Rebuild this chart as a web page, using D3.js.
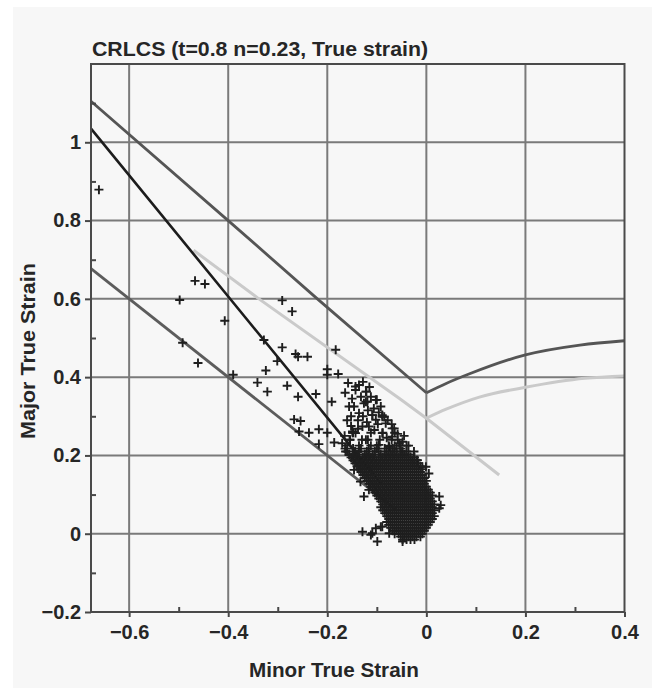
<!DOCTYPE html>
<html>
<head>
<meta charset="utf-8">
<script src="https://cdn.jsdelivr.net/npm/d3@7"></script>
<style>
  body { margin: 0; background: #fff; }
  text { font-family: "Liberation Sans", Arial, sans-serif; font-weight: bold; fill: #262626; }
</style>
</head>
<body>
<div id="chart"></div>
<script>
// curves: [minor, major]
const flcLeftMinor  = [-0.677, -0.4, -0.22, 0];
const flcLeftMajor  = [1.105, 0.8, 0.6, 0.36];
const flcRightMinor = [0, 0.04, 0.086, 0.2, 0.31, 0.4];
const flcRightMajor = [0.36, 0.384, 0.408, 0.457, 0.482, 0.493];

const safeLeftMinor  = [-0.47, -0.338, -0.055, 0, 0.147];
const safeLeftMajor  = [0.724, 0.6, 0.346, 0.295, 0.15];
const safeRightMinor = [0, 0.04, 0.107, 0.2, 0.32, 0.4];
const safeRightMajor = [0.295, 0.318, 0.349, 0.374, 0.397, 0.403];

const shearMinor = [-0.677, -0.4, -0.09];
const shearMajor = [1.035, 0.606, 0.126];
const lowerMinor = [-0.677, -0.06];
const lowerMajor = [0.677, 0.06];

// isolated measured points
const loosePoints = [
  [-0.661,0.879],[-0.467,0.646],[-0.447,0.638],[-0.498,0.597],[-0.407,0.544],[-0.492,0.488],
  [-0.461,0.436],[-0.39,0.406],[-0.291,0.596],[-0.271,0.568],[-0.328,0.495],[-0.291,0.476],
  [-0.301,0.441],[-0.264,0.459],[-0.24,0.452],[-0.259,0.452],[-0.324,0.417],[-0.341,0.386],
  [-0.321,0.363],[-0.281,0.378],[-0.259,0.35],[-0.223,0.357],[-0.2,0.42],[-0.2,0.406],
  [-0.178,0.408],[-0.183,0.47],[-0.191,0.337],[-0.267,0.292],[-0.254,0.288],[-0.257,0.261],
  [-0.237,0.258],[-0.217,0.267],[-0.2,0.258],[-0.217,0.229],[-0.186,0.233],[-0.149,0.258],
  [-0.164,0.36],[-0.143,0.367],[-0.136,0.38],[-0.121,0.363],[-0.1,0.342],[-0.119,0.337],
  [-0.089,0.303],[-0.109,0.303]
];

// edge of the big cluster
const fringePoints = [
  [-0.143,0.376],[-0.122,0.363],[-0.102,0.342],[-0.126,0.333],[-0.146,0.325],[-0.136,0.308],
  [-0.089,0.299],[-0.065,0.269],[-0.082,0.282],[-0.102,0.291],[-0.116,0.274],[-0.048,0.235],
  [-0.069,0.248],[-0.089,0.257],[-0.143,0.257],[-0.122,0.24],[-0.096,0.227],[-0.075,0.222],
  [-0.018,0.188],[-0.001,0.171],[0.029,0.073],[0.026,0.065],[-0.129,0.005],[-0.109,0.001],
  [-0.099,-0.02],[-0.089,0.018],[-0.048,-0.02],[-0.102,0.014],[-0.112,-0.003],[-0.075,0.001],
  [-0.092,0.018],[-0.156,0.325],[-0.122,0.337],[-0.109,0.303],[-0.149,0.261],[-0.129,0.274],
  [-0.17,0.231],[-0.163,0.21],[-0.126,0.095],[-0.116,0.112],[-0.133,0.133],[-0.146,0.163],
  [-0.085,0.299],[-0.069,0.269],[-0.055,0.231],[-0.052,0.21],[-0.028,0.188],[-0.008,0.171],
  [0.005,0.154],[0.026,0.095],
  [-0.16,0.29],[-0.152,0.3],[-0.138,0.29],[-0.128,0.3],[-0.118,0.315],[-0.106,0.32],
  [-0.096,0.31],[-0.132,0.35],[-0.112,0.35],[-0.092,0.325],[-0.078,0.29],[-0.07,0.28],
  [-0.058,0.255],[-0.045,0.25],[-0.036,0.225],[-0.025,0.21],[-0.152,0.275],[-0.138,0.268],
  [-0.105,0.265],[-0.08,0.245],[-0.165,0.25],[-0.155,0.24],[-0.12,0.285],[-0.098,0.28],
  [-0.15,0.345],[-0.115,0.375],[-0.158,0.385],[-0.128,0.388]
];

// dense core, one row per major strain level: [major, [minor values]]
const coreRows = [
  [-0.015, [-0.048,-0.04,-0.032,-0.024]],
  [-0.0075,[-0.052,-0.044,-0.036,-0.028,-0.02,-0.012]],
  [0,      [-0.064,-0.056,-0.048,-0.04,-0.032,-0.024,-0.016,-0.008]],
  [0.0075, [-0.068,-0.06,-0.052,-0.044,-0.036,-0.028,-0.02,-0.012,-0.004]],
  [0.015,  [-0.072,-0.064,-0.056,-0.048,-0.04,-0.032,-0.024,-0.016,-0.008,0]],
  [0.0225, [-0.076,-0.068,-0.06,-0.052,-0.044,-0.036,-0.028,-0.02,-0.012,-0.004,0.004]],
  [0.03,   [-0.08,-0.072,-0.064,-0.056,-0.048,-0.04,-0.032,-0.024,-0.016,-0.008,0,0.008]],
  [0.0375, [-0.076,-0.068,-0.06,-0.052,-0.044,-0.036,-0.028,-0.02,-0.012,-0.004,0.004,0.012]],
  [0.045,  [-0.08,-0.072,-0.064,-0.056,-0.048,-0.04,-0.032,-0.024,-0.016,-0.008,0,0.008,0.016]],
  [0.0525, [-0.084,-0.076,-0.068,-0.06,-0.052,-0.044,-0.036,-0.028,-0.02,-0.012,-0.004,0.004,0.012]],
  [0.06,   [-0.088,-0.08,-0.072,-0.064,-0.056,-0.048,-0.04,-0.032,-0.024,-0.016,-0.008,0,0.008,0.016]],
  [0.0675, [-0.092,-0.084,-0.076,-0.068,-0.06,-0.052,-0.044,-0.036,-0.028,-0.02,-0.012,-0.004,0.004,0.012]],
  [0.075,  [-0.088,-0.08,-0.072,-0.064,-0.056,-0.048,-0.04,-0.032,-0.024,-0.016,-0.008,0,0.008,0.016]],
  [0.0825, [-0.092,-0.084,-0.076,-0.068,-0.06,-0.052,-0.044,-0.036,-0.028,-0.02,-0.012,-0.004,0.004,0.012]],
  [0.09,   [-0.096,-0.088,-0.08,-0.072,-0.064,-0.056,-0.048,-0.04,-0.032,-0.024,-0.016,-0.008,0,0.008]],
  [0.0975, [-0.1,-0.092,-0.084,-0.076,-0.068,-0.06,-0.052,-0.044,-0.036,-0.028,-0.02,-0.012,-0.004,0.004,0.012]],
  [0.105,  [-0.104,-0.096,-0.088,-0.08,-0.072,-0.064,-0.056,-0.048,-0.04,-0.032,-0.024,-0.016,-0.008,0,0.008]],
  [0.1125, [-0.108,-0.1,-0.092,-0.084,-0.076,-0.068,-0.06,-0.052,-0.044,-0.036,-0.028,-0.02,-0.012,-0.004,0.004]],
  [0.12,   [-0.112,-0.104,-0.096,-0.088,-0.08,-0.072,-0.064,-0.056,-0.048,-0.04,-0.032,-0.024,-0.016,-0.008,0]],
  [0.1275, [-0.116,-0.108,-0.1,-0.092,-0.084,-0.076,-0.068,-0.06,-0.052,-0.044,-0.036,-0.028,-0.02,-0.012,-0.004]],
  [0.135,  [-0.12,-0.112,-0.104,-0.096,-0.088,-0.08,-0.072,-0.064,-0.056,-0.048,-0.04,-0.032,-0.024,-0.016,-0.008,0]],
  [0.1425, [-0.124,-0.116,-0.108,-0.1,-0.092,-0.084,-0.076,-0.068,-0.06,-0.052,-0.044,-0.036,-0.028,-0.02,-0.012,-0.004]],
  [0.15,   [-0.128,-0.12,-0.112,-0.104,-0.096,-0.088,-0.08,-0.072,-0.064,-0.056,-0.048,-0.04,-0.032,-0.024,-0.016,-0.008]],
  [0.1575, [-0.132,-0.124,-0.116,-0.108,-0.1,-0.092,-0.084,-0.076,-0.068,-0.06,-0.052,-0.044,-0.036,-0.028,-0.02,-0.012]],
  [0.165,  [-0.136,-0.128,-0.12,-0.112,-0.104,-0.096,-0.088,-0.08,-0.072,-0.064,-0.056,-0.048,-0.04,-0.032,-0.024,-0.016,-0.008]],
  [0.1725, [-0.14,-0.132,-0.124,-0.116,-0.108,-0.1,-0.092,-0.084,-0.076,-0.068,-0.06,-0.052,-0.044,-0.036,-0.028,-0.02,-0.012]],
  [0.18,   [-0.144,-0.136,-0.128,-0.12,-0.112,-0.104,-0.096,-0.088,-0.08,-0.072,-0.064,-0.056,-0.048,-0.04,-0.032,-0.024,-0.016]],
  [0.1875, [-0.148,-0.14,-0.132,-0.124,-0.116,-0.108,-0.1,-0.092,-0.084,-0.076,-0.068,-0.06,-0.052,-0.044,-0.036,-0.028,-0.02]],
  [0.195,  [-0.152,-0.144,-0.136,-0.128,-0.12,-0.112,-0.104,-0.096,-0.088,-0.08,-0.072,-0.064,-0.056,-0.048,-0.04,-0.032,-0.024]],
  [0.2025, [-0.156,-0.148,-0.14,-0.124,-0.116,-0.108,-0.092,-0.084,-0.076,-0.068,-0.06,-0.052,-0.044,-0.036]],
  [0.21,   [-0.16,-0.144,-0.136,-0.12,-0.104,-0.096,-0.08,-0.072,-0.064,-0.048,-0.04]],
  [0.2175, [-0.164,-0.148,-0.132,-0.116,-0.1,-0.084,-0.068,-0.06,-0.052]],
  [0.225,  [-0.16,-0.136,-0.112,-0.1,-0.076,-0.064,-0.052,-0.04]],
  [0.24,   [-0.154,-0.13,-0.118,-0.094,-0.07,-0.058]],
  [0.258,  [-0.148,-0.112,-0.088,-0.064]]
];

const xTicks = [-0.6, -0.4, -0.2, 0, 0.2, 0.4];
const yTicks = [-0.2, 0, 0.2, 0.4, 0.6, 0.8, 1];
const xMinor = [-0.5, -0.3, -0.1, 0.1, 0.3];
const yMinor = [-0.1, 0.1, 0.3, 0.5, 0.7, 0.9, 1.1];

const zip = (a, b) => a.map((v, i) => [v, b[i]]);

const svg = d3.select("#chart")
  .append("svg")
    .attr("width", 658)
    .attr("height", 688);

// grey panel
svg.append("rect")
    .attr("x", 13).attr("y", 7)
    .attr("width", 639).attr("height", 681)
    .attr("fill", "#f7f7f7");

const x = d3.scaleLinear().domain([-0.677, 0.4]).range([91, 624.5]);
const y = d3.scaleLinear().domain([-0.2, 1.2]).range([612, 64]);

// grid
svg.append("g")
  .selectAll("line")
  .data(xTicks.filter(d => d < 0.4))
  .join("line")
    .attr("x1", d => x(d)).attr("x2", d => x(d))
    .attr("y1", y(1.2)).attr("y2", y(-0.2))
    .attr("stroke", "#7a7a7a").attr("stroke-width", 2);

svg.append("g")
  .selectAll("line")
  .data(yTicks.filter(d => d > -0.2))
  .join("line")
    .attr("y1", d => y(d)).attr("y2", d => y(d))
    .attr("x1", x(-0.677)).attr("x2", x(0.4))
    .attr("stroke", "#7a7a7a").attr("stroke-width", 2);

// strain limit lines
const line = d3.line().x(d => x(d[0])).y(d => y(d[1]));
const smooth = d3.line().x(d => x(d[0])).y(d => y(d[1])).curve(d3.curveMonotoneX);

const drawLine = (pts, gen, color, w) => svg.append("path")
    .datum(pts)
    .attr("d", gen)
    .attr("fill", "none")
    .attr("stroke", color)
    .attr("stroke-width", w)
    .attr("stroke-linejoin", "round");

drawLine(zip(safeLeftMinor, safeLeftMajor), line, "#cacaca", 3);
drawLine(zip(safeRightMinor, safeRightMajor), smooth, "#cacaca", 3);
drawLine(zip(flcLeftMinor, flcLeftMajor), line, "#555555", 2.8);
drawLine(zip(flcRightMinor, flcRightMajor), smooth, "#555555", 2.8);
drawLine(zip(lowerMinor, lowerMajor), line, "#5c5c5c", 2.8);
drawLine(zip(shearMinor, shearMajor), line, "#1c1c1c", 2.6);

// measured points as plus markers
const corePoints = coreRows.flatMap(r => r[1].map(m => [m, r[0]]));
const allPoints = loosePoints.concat(fringePoints, corePoints);

svg.append("g")
  .selectAll("path")
  .data(allPoints)
  .join("path")
    .attr("transform", d => `translate(${x(d[0])},${y(d[1])})`)
    .attr("d", "M-4.5,0H4.5M0,-4.5V4.5")
    .attr("stroke", "#1e1e1e")
    .attr("stroke-width", 1.9);

// axes
const fmt = d3.format("~g");
svg.append("g")
    .attr("transform", `translate(${x(-0.677)},0)`)
    .call(d3.axisLeft(y).tickValues(yTicks).tickSize(6).tickPadding(4).tickFormat(fmt));
svg.append("g")
    .attr("transform", `translate(${x(-0.677)},0)`)
    .call(d3.axisLeft(y).tickValues(yMinor).tickSize(-5).tickFormat(""));

svg.append("g")
    .attr("transform", `translate(0,${y(-0.2)})`)
    .call(d3.axisBottom(x).tickValues(xTicks).tickSize(5).tickPadding(8).tickFormat(fmt));
svg.append("g")
    .attr("transform", `translate(0,${y(-0.2)})`)
    .call(d3.axisBottom(x).tickValues(xMinor).tickSize(-5).tickFormat(""));

svg.selectAll(".domain").remove();
svg.selectAll(".tick line").attr("stroke", "#474747").attr("stroke-width", 2);
svg.selectAll(".tick text")
    .attr("fill", "#262626")
    .style("font-family", "'Liberation Sans', Arial, sans-serif")
    .style("font-weight", "bold")
    .style("font-size", "20px");

// frame
svg.append("rect")
    .attr("x", x(-0.677)).attr("y", y(1.2))
    .attr("width", x(0.4) - x(-0.677))
    .attr("height", y(-0.2) - y(1.2))
    .attr("fill", "none")
    .attr("stroke", "#4a4a4a")
    .attr("stroke-width", 2);

// title and labels
svg.append("text")
    .attr("x", 92).attr("y", 56)
    .attr("textLength", 336)
    .attr("lengthAdjust", "spacingAndGlyphs")
    .style("font-size", "20px")
    .text("CRLCS (t=0.8 n=0.23, True strain)");

svg.append("text")
    .attr("x", 334).attr("y", 677)
    .attr("text-anchor", "middle")
    .attr("textLength", 170)
    .attr("lengthAdjust", "spacingAndGlyphs")
    .style("font-size", "20px")
    .text("Minor True Strain");

svg.append("text")
    .attr("transform", "translate(34.5,351) rotate(-90)")
    .attr("text-anchor", "middle")
    .attr("textLength", 176)
    .attr("lengthAdjust", "spacingAndGlyphs")
    .style("font-size", "20px")
    .text("Major True Strain");
</script>
</body>
</html>
